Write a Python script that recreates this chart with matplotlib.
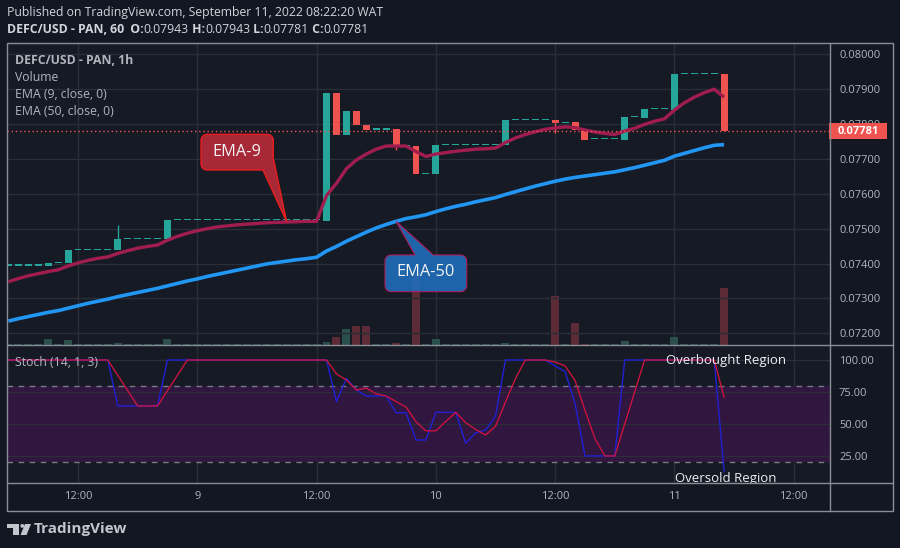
import numpy as np
import matplotlib
matplotlib.use("Agg")
import matplotlib.pyplot as plt
from matplotlib.patches import Polygon, Rectangle, Circle

plt.rcParams["font.family"] = ["Open Sans", "DejaVu Sans"]

W, H = 900, 548

# hours counted from Sept 8 00:00, one candle per hour
hours = list(range(5, 78))

opens = [0.07394, 0.07394, 0.07394, 0.07394, 0.07394, 0.07402, 0.07402,
         0.07438, 0.07438, 0.07438, 0.07438, 0.07438,
         0.07469, 0.07469, 0.07469, 0.07469, 0.07469,
         0.07524, 0.07524, 0.07524, 0.07524, 0.07524, 0.07524, 0.07524, 0.07524,
         0.07524, 0.07524, 0.07524, 0.07524, 0.07524, 0.07524, 0.07524,
         0.07522, 0.07889, 0.07768, 0.07837, 0.07797,
         0.07784, 0.07784, 0.07785, 0.07736, 0.07736, 0.07656, 0.07656,
         0.07739, 0.07739, 0.07739, 0.07739, 0.07739, 0.07739, 0.07739,
         0.07811, 0.07811, 0.07811, 0.07811, 0.07811, 0.07803, 0.07805, 0.07784,
         0.07756, 0.07756, 0.07756, 0.07754, 0.07820, 0.07818,
         0.07843, 0.07843, 0.07840, 0.07943, 0.07943, 0.07943, 0.07943, 0.07943]

closes = [0.07394, 0.07394, 0.07394, 0.07394, 0.07402, 0.07402, 0.07438,
          0.07438, 0.07438, 0.07438, 0.07438, 0.07469,
          0.07469, 0.07469, 0.07469, 0.07469, 0.07524,
          0.07524, 0.07524, 0.07524, 0.07524, 0.07524, 0.07524, 0.07524, 0.07524,
          0.07524, 0.07524, 0.07524, 0.07524, 0.07524, 0.07524, 0.07524,
          0.07889, 0.07768, 0.07837, 0.07797, 0.07783,
          0.07784, 0.07784, 0.07735, 0.07736, 0.07656, 0.07656, 0.07739,
          0.07739, 0.07739, 0.07739, 0.07739, 0.07739, 0.07739, 0.07811,
          0.07811, 0.07811, 0.07811, 0.07811, 0.07803, 0.07803, 0.07782, 0.07754,
          0.07756, 0.07756, 0.07756, 0.07820, 0.07820, 0.07843,
          0.07843, 0.07843, 0.07943, 0.07943, 0.07943, 0.07943, 0.07943, 0.07781]

wick_high = {16: 0.07510}
wick_low = {44: 0.07725, 60: 0.07773}

volume = [0, 0, 0, 0, 6, 0, 5,
          0, 0, 0, 0, 2,
          0, 0, 0, 0, 6,
          0, 0, 0, 0, 0, 0, 0, 0, 0, 0, 0, 0, 0, 0, 0,
          3.5, 8.3, 16, 19, 19,
          0, 0, 2, 0, 71.7, 0, 6,
          0, 0, 0, 0, 0, 0, 2,
          0, 0, 0, 0, 49, 0, 21.7, 1,
          0, 0, 0, 4, 0, 0,
          0, 0, 8.3, 0, 0, 0, 0, 57]

ema9 = [0.07348, 0.07357, 0.07365, 0.07371, 0.07377, 0.07382, 0.07393,
        0.07402, 0.07409, 0.07415, 0.07419, 0.07429,
        0.07437, 0.07444, 0.07449, 0.07453, 0.07467,
        0.07478, 0.07487, 0.07494, 0.07500, 0.07505, 0.07508, 0.07511, 0.07513,
        0.07515, 0.07517, 0.07518, 0.07519, 0.07520, 0.07521, 0.07521,
        0.07595, 0.07630, 0.07672, 0.07697, 0.07714,
        0.07728, 0.07737, 0.07737, 0.07737, 0.07721, 0.07707, 0.07714,
        0.07718, 0.07722, 0.07725, 0.07728, 0.07729, 0.07731, 0.07747,
        0.07760, 0.07770, 0.07778, 0.07785, 0.07789, 0.07792, 0.07790, 0.07783,
        0.07777, 0.07773, 0.07770, 0.07780, 0.07788, 0.07799,
        0.07808, 0.07815, 0.07840, 0.07861, 0.07877, 0.07890, 0.07900, 0.07877]

ema50 = [0.07235, 0.07242, 0.07248, 0.07254, 0.07260, 0.07265, 0.07272,
         0.07279, 0.07286, 0.07292, 0.07298, 0.07305,
         0.07311, 0.07317, 0.07323, 0.07329, 0.07336,
         0.07343, 0.07350, 0.07356, 0.07363, 0.07369, 0.07375, 0.07381, 0.07387,
         0.07393, 0.07399, 0.07403, 0.07407, 0.07411, 0.07414, 0.07418,
         0.07436, 0.07449, 0.07464, 0.07477, 0.07490,
         0.07502, 0.07512, 0.07521, 0.07529, 0.07534, 0.07540, 0.07549,
         0.07557, 0.07564, 0.07570, 0.07577, 0.07583, 0.07589, 0.07598,
         0.07606, 0.07614, 0.07622, 0.07629, 0.07636, 0.07642, 0.07647, 0.07651,
         0.07655, 0.07659, 0.07663, 0.07669, 0.07675, 0.07682,
         0.07689, 0.07696, 0.07708, 0.07716, 0.07724, 0.07732, 0.07739, 0.07741]

stoch_k = [100, 100, 100, 100, 100, 100, 100,
           100, 100, 100, 100, 64,
           64, 64, 64, 64, 100,
           100, 100, 100, 100, 100, 100, 100, 100, 100, 100, 100, 100, 100, 100, 100,
           100, 67.3, 85.6, 76.5, 71.8,
           71.8, 71.8, 58.7, 58.7, 37.3, 37.3, 59,
           59, 59, 34.7, 43, 45, 56, 100,
           100, 100, 100, 100, 95.3, 90.9, 66, 24.8,
           24.8, 24.8, 24.8, 100, 100, 100,
           100, 100, 100, 100, 100, 100, 100, 12.5]

stoch_d = [100, 100, 100, 100, 100, 100, 100,
           100, 100, 100, 100, 88,
           76, 64, 64, 64, 76,
           88, 100, 100, 100, 100, 100, 100, 100, 100, 100, 100, 100, 100, 100, 100,
           100, 89.1, 84.3, 76.5, 78,
           73.4, 71.8, 67.4, 63.1, 51.6, 44.4, 44.5,
           51.8, 59, 50.9, 45.6, 41.2, 48, 67,
           85.3, 100, 100, 100, 98.4, 95.4, 84, 60.6,
           38.5, 24.8, 24.8, 49.9, 75, 100,
           100, 100, 100, 100, 100, 100, 100, 70.8]

price_ticks = [0.072, 0.073, 0.074, 0.075, 0.076, 0.077, 0.078, 0.079, 0.080]
stoch_ticks = [25, 50, 75, 100]
time_ticks = [12, 24, 36, 48, 60, 72, 84]
time_labels = ["12:00", "9", "12:00", "10", "12:00", "11", "12:00"]
last_close = 0.07781

BG = "#131722"
PANE = "#161a25"
GRID = "#2a2e39"
TXT = "#b2b5be"
UP = "#26a69a"
DOWN = "#ef5350"
FRAME = "#8a8d96"


def box(x0, y0, x1, y1):
    return [x0 / W, 1 - y1 / H, (x1 - x0) / W, (y1 - y0) / H]


fig = plt.figure(figsize=(W / 100, H / 100), dpi=100, facecolor=BG)

axv = fig.add_axes(box(7, 43, 830, 345), facecolor=PANE)
ax = fig.add_axes(box(7, 43, 830, 345), sharex=axv)
ax.patch.set_alpha(0)
axs = fig.add_axes(box(7, 345, 830, 483), sharex=axv, facecolor=PANE)

ax.set_xlim(4.857, 87.65)
ax.set_ylim(0.0716645, 0.080324)
axv.set_ylim(0, 302)
axs.set_ylim(3.6, 111.76)

for a in (ax, axv, axs):
    for s in a.spines.values():
        s.set_visible(False)
    a.tick_params(length=0, colors=TXT, labelsize=8)

# grid
for t in time_ticks:
    axv.axvline(t, color=GRID, lw=1, zorder=0)
    axs.axvline(t, color=GRID, lw=1, zorder=0)
for p in price_ticks:
    ax.axhline(p, color=GRID, lw=1, zorder=0)
for s in stoch_ticks:
    axs.axhline(s, color=GRID, lw=1, zorder=1)

# volume
is_up = [c >= o for o, c in zip(opens, closes)]
vcol = ["#2b4f4a" if u else "#5c2b35" for u in is_up]
axv.bar(hours, [max(v, 1) for v in volume], width=0.8, color=vcol, linewidth=0, zorder=2)
axv.set_yticks([])
axv.tick_params(labelbottom=False)

# candles
px = (0.080324 - 0.0716645) / 302
ccol = [UP if u else DOWN for u in is_up]
bottoms = [min(o, c) for o, c in zip(opens, closes)]
heights = [max(abs(c - o), 1.3 * px) for o, c in zip(opens, closes)]
for t, hi in wick_high.items():
    i = hours.index(t)
    ax.vlines(t, max(opens[i], closes[i]), hi, color=ccol[i], lw=1, zorder=3)
for t, lo in wick_low.items():
    i = hours.index(t)
    ax.vlines(t, lo, min(opens[i], closes[i]), color=ccol[i], lw=1, zorder=3)
ax.bar(hours, heights, bottom=bottoms, width=0.7, color=ccol, linewidth=0, zorder=4)

ax.plot(hours, ema50, color="#2196f3", lw=2.6, zorder=5, solid_capstyle="butt")
ax.plot(hours, ema9, color="#a21d4f", lw=2.4, zorder=5, solid_capstyle="butt")
ax.axhline(last_close, color=DOWN, lw=1, ls=(0, (1, 2)), zorder=6)

ax.yaxis.tick_right()
ax.set_yticks(price_ticks)
ax.set_yticklabels([f"{p:.5f}" for p in price_ticks])
ax.tick_params(axis="y", pad=6.5)
ax.tick_params(labelbottom=False)

# stochastic
axs.fill_between([4.857, 87.65], 20, 80, color="#31163f", zorder=0.5, linewidth=0)
axs.axhline(80, color="#787b86", lw=1, ls=(0, (4, 4)), zorder=2)
axs.axhline(20, color="#787b86", lw=1, ls=(0, (4, 4)), zorder=2)
axs.plot(hours, stoch_k, color="#2020d4", lw=1, zorder=3)
axs.plot(hours, stoch_d, color="#c8143f", lw=1, zorder=4)
axs.yaxis.tick_right()
axs.set_yticks(stoch_ticks)
axs.set_yticklabels([f"{s:.2f}" for s in stoch_ticks])
axs.tick_params(axis="y", pad=6.5)
axs.set_xticks(time_ticks)
axs.set_xticklabels(time_labels)
axs.tick_params(axis="x", pad=6)
axs.text(0.8737, 0.886, "Overbought Region", transform=axs.transAxes, ha="center",
         va="center", color="#eceef2", fontsize=9.5, zorder=6)
axs.text(0.8737, 0.034, "Oversold Region", transform=axs.transAxes, ha="center",
         va="center", color="#eceef2", fontsize=9.5, zorder=6, clip_on=True)

# overlay in pixel units for frame, labels and callouts
ov = fig.add_axes([0, 0, 1, 1])
ov.set_xlim(0, W)
ov.set_ylim(H, 0)
ov.axis("off")
ov.patch.set_alpha(0)

ov.add_patch(Rectangle((7, 43), 886, 468, fill=False, ec=FRAME, lw=1))
ov.plot([830, 830], [43, 511], color=FRAME, lw=1)
ov.plot([7, 893], [345, 345], color=FRAME, lw=1)
ov.plot([7, 893], [483, 483], color=FRAME, lw=1)

ov.add_patch(Rectangle((829, 123.3), 58, 16, color=DOWN, lw=0))
ov.text(838, 131.5, f"{last_close:.5f}", color="white", fontsize=8, fontweight="bold",
        va="center", ha="left")

ov.text(15, 60.7, "DEFC/USD - PAN, 1h", color=TXT, fontsize=8.8, fontweight="bold", va="center")
ov.text(15, 77.7, "Volume", color=TXT, fontsize=8.8, va="center")
ov.text(15, 95, "EMA (9, close, 0)", color=TXT, fontsize=8.8, va="center")
ov.text(15, 111.7, "EMA (50, close, 0)", color=TXT, fontsize=8.8, va="center")
ov.text(15, 362.7, "Stoch (14, 1, 3)", color=TXT, fontsize=8.8, va="center")

ov.text(7, 12.7, "Published on TradingView.com, September 11, 2022 08:22:20 WAT",
        color="#d1d4dc", fontsize=8.8, va="center")
renderer = fig.canvas.get_renderer()
parts = [("DEFC/USD - PAN, 60", "bold"), ("  O:", "bold"), ("0.07943", "normal"),
         (" H:", "bold"), ("0.07943", "normal"), (" L:", "bold"), ("0.07781", "normal"),
         (" C:", "bold"), ("0.07781", "normal")]
xpos = 7
for s, wgt in parts:
    tx = ov.text(xpos, 29.3, s, color="#d1d4dc", fontsize=8.8, fontweight=wgt, va="center")
    bb = tx.get_window_extent(renderer=renderer)
    xpos += bb.width


def to_px(a, x, y):
    return ov.transData.inverted().transform(a.transData.transform((x, y)))


def corner(cx, cy, r, a0, a1):
    ang = np.radians(np.linspace(a0, a1, 6))
    return [(cx + r * np.cos(q), cy + r * np.sin(q)) for q in ang]


# EMA-9 callout
tip9 = to_px(ax, 33, ema9[hours.index(33)])
x0, y0, x1, y1, r = 201, 134.3, 273.3, 170, 6
pts = corner(x0 + r, y0 + r, r, 180, 270) + corner(x1 - r, y0 + r, r, 270, 360)
pts += [(x1, 158), tuple(tip9), (263, y1)] + corner(x0 + r, y1 - r, r, 90, 180)
ov.add_patch(Polygon(pts, closed=True, fc="#b02a3a", ec="#f01c1c", lw=1, alpha=0.95))
ov.text((x0 + x1) / 2, 151.5, "EMA-9", color="#f2f2f2", fontsize=11.8, ha="center", va="center")

# EMA-50 callout
tip50 = to_px(ax, 44, ema50[hours.index(44)])
x0, y0, x1, y1 = 385, 255, 466.7, 291.7
pts = corner(x0 + r, y0 + r, r, 180, 270) + [(415, y0), tuple(tip50), (433.3, y0)]
pts += corner(x1 - r, y0 + r, r, 270, 360) + corner(x1 - r, y1 - r, r, 0, 90)
pts += corner(x0 + r, y1 - r, r, 90, 180)
ov.add_patch(Polygon(pts, closed=True, fc="#1f6fbd", ec="#c2185b", lw=0.8, alpha=0.88))
ov.text((x0 + x1) / 2, 272.5, "EMA-50", color="#f2f2f2", fontsize=11.8, ha="center", va="center")

# TradingView logo
LOGO = "#c3c6cd"
ov.add_patch(Rectangle((7, 524), 12.3, 3.7, color=LOGO, lw=0))
ov.add_patch(Rectangle((13.3, 524), 6, 11, color=LOGO, lw=0))
ov.add_patch(Circle((22.3, 525.9), 1.9, color=LOGO, lw=0))
ov.add_patch(Polygon([(25, 524), (31, 524), (26.5, 535), (20.5, 535)], closed=True, color=LOGO, lw=0))
ov.text(34, 529, "TradingView", color=LOGO, fontsize=11, fontweight="bold", va="center")

fig.savefig("out.png", dpi=100, facecolor=BG)
